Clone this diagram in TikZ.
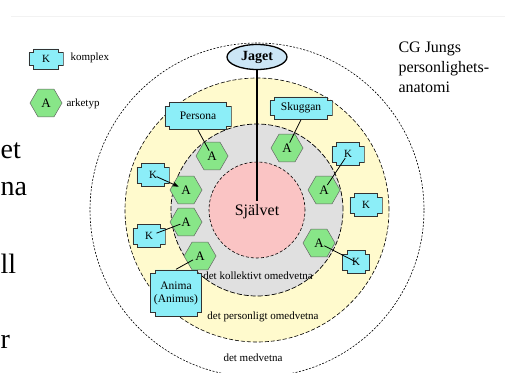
\documentclass[tikz,border=0pt]{standalone}
\usepackage{fontspec}
\setmainfont{Liberation Serif}
\usetikzlibrary{shapes.geometric, arrows.meta}
\definecolor{kcyan}{RGB}{140,238,248}
\definecolor{agreen}{RGB}{136,230,136}
\definecolor{pyellow}{RGB}{255,250,205}
\definecolor{cgray}{RGB}{224,224,224}
\definecolor{spink}{RGB}{250,196,196}
\definecolor{jblue}{RGB}{204,230,246}
\newcommand{\kx}{5pt}
\newcommand{\ky}{4pt}
\newcommand{\ki}{0.4pt}
\tikzset{
    x=1pt, y=-1pt, % pixel units, y downwards
    >=Stealth, % Nice arrowheads
    komplex/.style={rectangle, inner sep=0pt, font=\fontsize{11}{12}\selectfont,
        path picture={
            \fill[kcyan, draw=black!80, line width=0.6pt]
                ([shift={(\kx,-\ki)}]path picture bounding box.north west)
                -- ([shift={(-\kx,-\ki)}]path picture bounding box.north east)
                -- ([shift={(-\kx,-\ky)}]path picture bounding box.north east)
                -- ([shift={(-\ki,-\ky)}]path picture bounding box.north east)
                -- ([shift={(-\ki,\ky)}]path picture bounding box.south east)
                -- ([shift={(-\kx,\ky)}]path picture bounding box.south east)
                -- ([shift={(-\kx,\ki)}]path picture bounding box.south east)
                -- ([shift={(\kx,\ki)}]path picture bounding box.south west)
                -- ([shift={(\kx,\ky)}]path picture bounding box.south west)
                -- ([shift={(\ki,\ky)}]path picture bounding box.south west)
                -- ([shift={(\ki,-\ky)}]path picture bounding box.north west)
                -- ([shift={(\kx,-\ky)}]path picture bounding box.north west)
                -- cycle;
        }}, % cross shaped box for a complex
    kbox/.style={komplex, minimum width=33pt, minimum height=24pt},
    arketyp/.style={regular polygon, regular polygon sides=6, minimum size=32pt,
        inner sep=0pt, fill=agreen, draw=black!60, line width=0.5pt,
        font=\fontsize{13}{13}\selectfont}, % hexagon for an archetype
    skikt/.style={font=\fontsize{11}{12}\selectfont}, % ring labels
    link/.style={-, line width=0.8pt},
    fragment/.style={anchor=base west, inner sep=0pt, font=\fontsize{28}{28}\selectfont},
}

\begin{document}
\begin{tikzpicture}
    \useasboundingbox (0,0) rectangle (511,372);
    \draw[black!5, line width=1pt] (11,16) -- (505,16);

    % the rings
    \coordinate (mitt) at (257,210);
    \draw[fill=white, line width=0.6pt, dash pattern=on 2pt off 1.5pt] (mitt) circle (167pt);
    \draw[fill=pyellow, line width=0.6pt, dash pattern=on 4pt off 2pt] (mitt) circle (132pt);
    \draw[fill=cgray, line width=0.7pt, dash pattern=on 5pt off 2pt] (mitt) circle (86pt);
    \draw[fill=spink, line width=0.6pt, dash pattern=on 3pt off 2pt] (mitt) circle (48pt);

    \node[skikt] (kollektivt) at (258,276) {det kollektivt omedvetna};
    \node[skikt] (personligt) at (263,317) {det personligt omedvetna};
    \node[skikt] (medvetna) at (253,358) {det medvetna};

    \node[font=\fontsize{16}{16}\selectfont] (sjalvet) at (257,212) {Självet};
    \node[ellipse, fill=jblue, draw, line width=1.3pt, minimum width=60pt, minimum height=25pt,
        inner sep=0pt, font=\bfseries\fontsize{14}{14}\selectfont] (jaget) at (257,57) {Jaget};
    \draw[line width=1.5pt] (jaget.south) -- (sjalvet.north);

    % archetypes
    \node[arketyp] (pA) at (212,156) {A};
    \node[arketyp] (sA) at (287,148) {A};
    \node[arketyp] (rA1) at (324,190) {A};
    \node[arketyp] (rA2) at (319,243) {A};
    \node[arketyp] (lA1) at (186,190) {A};
    \node[arketyp] (lA2) at (186,222) {A};
    \node[arketyp] (aA) at (200,256) {A};

    % complexes
    \node[komplex, minimum width=67pt, minimum height=28pt, font=\fontsize{11.5}{12}\selectfont] (persona) at (198,116) {Persona};
    \node[komplex, minimum width=63pt, minimum height=23pt, font=\fontsize{11.5}{12}\selectfont] (skuggan) at (301,108) {Skuggan};
    \node[kbox] (kr1) at (348,154) {K};
    \node[kbox] (kr2) at (366,205) {K};
    \node[kbox, minimum width=28pt] (kr3) at (356,262) {K};
    \node[kbox] (kl1) at (153,175) {K};
    \node[kbox] (kl2) at (149,236) {K};
    \node[komplex, minimum width=52pt, minimum height=47pt, align=center,
        font=\fontsize{11.5}{13}\selectfont] (anima) at (176,293) {Anima\\(Animus)};

    \path[link]
        (persona.south) edge [shorten >=6pt] (pA.center)
        (skuggan.south) edge [shorten >=6pt] (sA.center)
        (kr1.center) edge [shorten <=5pt, shorten >=6pt] (rA1.center)
        (kl1.center) edge [->, shorten <=4pt, shorten >=8pt] (lA1.center)
        (kl2.center) edge [shorten <=8pt, shorten >=6pt] (lA2.center)
        (anima.north) edge [shorten >=8pt] (aA.center)
        (rA2.center) edge [shorten <=6pt] (kr3.center);

    % legend
    \node[komplex, minimum width=35pt, minimum height=21pt] (legK) at (46,59) {K};
    \node[skikt, anchor=west] (legKtext) at (67,58) {komplex};
    \node[arketyp] (legA) at (46,103) {A};
    \node[skikt, anchor=west] (legAtext) at (63,104) {arketyp};

    \node[anchor=north west, align=left, font=\fontsize{16}{20}\selectfont] (titel) at (395,38)
        {CG Jungs\\personlighets-\\anatomi};

    % cut text at the left edge
    \node[fragment] (frag1) at (0.5,158) {et};
    \node[fragment] (frag2) at (0.5,195) {na};
    \node[fragment] (frag3) at (0.5,273) {ll};
    \node[fragment] (frag4) at (0.5,348) {r};
\end{tikzpicture}
\end{document}
